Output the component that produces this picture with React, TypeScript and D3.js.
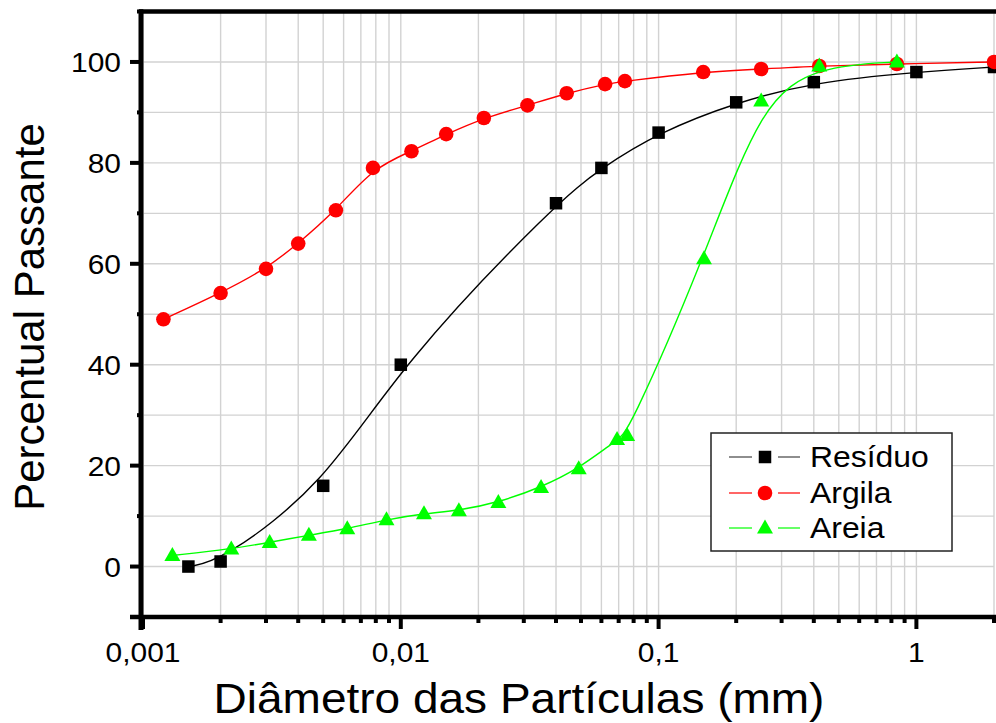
import React from "react";
import * as d3 from "d3";

// Particle size distribution (diameter in mm, percent passing)
const residuoDiam = [0.0015, 0.002, 0.005, 0.01, 0.04, 0.06, 0.1, 0.2, 0.4, 1, 2];
const residuoPass = [0, 1, 16, 40, 72, 79, 86, 92, 96, 98, 99];

const argilaDiam = [0.0012, 0.002, 0.003, 0.004, 0.0056, 0.0078, 0.011, 0.015, 0.021, 0.031, 0.044, 0.062, 0.074, 0.149, 0.25, 0.42, 0.84, 2];
const argilaPass = [49, 54.2, 59, 64, 70.6, 79, 82.3, 85.7, 88.9, 91.4, 93.8, 95.6, 96.2, 98, 98.6, 99.2, 99.6, 100];

const areiaDiam = [0.0013, 0.0022, 0.0031, 0.0044, 0.0062, 0.0088, 0.0123, 0.0168, 0.0239, 0.035, 0.049, 0.069, 0.0755, 0.15, 0.25, 0.42, 0.84];
const areiaPass = [2.2, 3.5, 4.8, 6.2, 7.5, 9.3, 10.5, 11.1, 12.7, 15.7, 19.4, 25.2, 26, 61, 92.3, 99.2, 100];

const seriesNames = ["Resíduo", "Argila", "Areia"];
const seriesColors = ["#000000", "#ff0000", "#00ff00"];
const seriesSymbols = ["square", "circle", "triangle"];

const yTickValues = [0, 20, 40, 60, 80, 100];
const xMajorTicks = [0.001, 0.01, 0.1, 1];
const xTickLabels = ["0,001", "0,01", "0,1", "1"];

const W = 996;
const H = 723;
const M = { left: 143, right: 994, top: 11.5, bottom: 617 };
const FONT = "'Liberation Sans', Arial, Helvetica, sans-serif";
const STRETCH = 1.07;

const x = d3.scaleLog().domain([0.001, 2]).range([M.left, M.right]);
const y = d3.scaleLinear().domain([-10, 110]).range([M.bottom, M.top]);

// Minor ticks on the log axis: 1..9 per decade up to 2
const xMinor: number[] = [];
for (let e = -3; e <= 0; e++) {
  for (let m = 1; m <= 9; m++) {
    const v = m * Math.pow(10, e);
    if (v <= 2.0001) xMinor.push(v);
  }
}
const yAll = d3.range(-10, 111, 10);

type Pt = { d: number; p: number };
const makePts = (ds: number[], ps: number[]): Pt[] => ds.map((d, i) => ({ d, p: ps[i] }));
const seriesData = [
  makePts(residuoDiam, residuoPass),
  makePts(argilaDiam, argilaPass),
  makePts(areiaDiam, areiaPass),
];

const lineGen = d3
  .line<Pt>()
  .x((d) => x(d.d))
  .y((d) => y(d.p))
  .curve(d3.curveBasis);

function Marker({ kind, cx, cy, color }: { kind: string; cx: number; cy: number; color: string }) {
  if (kind === "square") {
    const s = 12.5;
    return <rect x={cx - s / 2} y={cy - s / 2} width={s} height={s} fill={color} />;
  }
  if (kind === "circle") {
    return <circle cx={cx} cy={cy} r={7.3} fill={color} />;
  }
  const w = 16;
  const h = 14;
  return (
    <path
      d={`M${cx},${cy - h * 0.6} L${cx + w / 2},${cy + h * 0.4} L${cx - w / 2},${cy + h * 0.4} Z`}
      fill={color}
    />
  );
}

// Horizontal text with a slight horizontal stretch
function SText({
  tx,
  ty,
  size,
  anchor,
  sx = STRETCH,
  dy,
  children,
}: {
  tx: number;
  ty: number;
  size: number;
  anchor: "start" | "middle" | "end";
  sx?: number;
  dy?: string;
  children: React.ReactNode;
}) {
  return (
    <text
      transform={`translate(${tx},${ty}) scale(${sx},1)`}
      dy={dy}
      fontFamily={FONT}
      fontSize={size}
      textAnchor={anchor}
      fill="#000"
    >
      {children}
    </text>
  );
}

export default function App() {
  const legendX = 711;
  const legendY = 433;
  const legendRows = [457, 493, 528];
  return (
    <div style={{ position: "absolute", left: 0, top: 0 }}>
      <svg width={W} height={H} style={{ display: "block", background: "#fff" }}>
        {/* grid */}
        <g stroke="#d2d2d2" strokeWidth={1.4}>
          {xMinor.map((v, i) => (
            <line key={"gx" + i} x1={x(v)} x2={x(v)} y1={M.top} y2={M.bottom} />
          ))}
          {yAll.map((v, i) => (
            <line key={"gy" + i} x1={M.left} x2={M.right} y1={y(v)} y2={y(v)} />
          ))}
        </g>

        {/* curves and markers */}
        {seriesData.map((pts, si) => (
          <g key={"s" + si}>
            <path d={lineGen(pts) || ""} fill="none" stroke={seriesColors[si]} strokeWidth={1.4} />
            {pts.map((pt, i) => (
              <Marker key={i} kind={seriesSymbols[si]} cx={x(pt.d)} cy={y(pt.p)} color={seriesColors[si]} />
            ))}
          </g>
        ))}

        {/* axes */}
        <g stroke="#000" strokeLinecap="butt">
          <line x1={M.left - 2} x2={M.left - 2} y1={M.top - 2} y2={M.bottom + 13} strokeWidth={5} />
          <line x1={M.left - 13} x2={W} y1={M.bottom} y2={M.bottom} strokeWidth={4.5} />
          <line x1={M.left - 4} x2={W} y1={M.top} y2={M.top} strokeWidth={4.5} />
          {yAll.map((v, i) => {
            const major = v % 20 === 0;
            return (
              <line
                key={"yt" + i}
                x1={M.left - (major ? 13 : 6)}
                x2={M.left}
                y1={y(v)}
                y2={y(v)}
                strokeWidth={4}
              />
            );
          })}
          {xMinor.map((v, i) => {
            const major = xMajorTicks.some((m) => Math.abs(m - v) < 1e-9);
            return (
              <line
                key={"xt" + i}
                x1={x(v)}
                x2={x(v)}
                y1={M.bottom}
                y2={M.bottom + (major ? 12 : 6)}
                strokeWidth={4}
              />
            );
          })}
        </g>

        {/* tick labels */}
        {yTickValues.map((v) => (
          <SText key={"yl" + v} tx={M.left - 22} ty={y(v)} dy="0.36em" size={28} anchor="end">
            {v}
          </SText>
        ))}
        {xMajorTicks.map((v, i) => (
          <SText key={"xl" + v} tx={x(v)} ty={662} size={28} anchor="middle">
            {xTickLabels[i]}
          </SText>
        ))}

        {/* axis titles */}
        <SText tx={519} ty={713} size={43} anchor="middle">
          Diâmetro das Partículas (mm)
        </SText>
        <text
          transform={`translate(44, 317) rotate(-90)`}
          fontFamily={FONT}
          fontSize={42}
          textAnchor="middle"
          fill="#000"
        >
          Percentual Passante
        </text>

        {/* legend */}
        <g>
          <rect x={legendX} y={legendY} width={241} height={118} fill="#fff" stroke="#222" strokeWidth={1.5} />
          {seriesNames.map((name, i) => (
            <g key={"lg" + i}>
              <line x1={729} x2={752} y1={legendRows[i]} y2={legendRows[i]} stroke={i === 0 ? "#444" : seriesColors[i]} strokeWidth={1.2} />
              <line x1={778} x2={800} y1={legendRows[i]} y2={legendRows[i]} stroke={i === 0 ? "#444" : seriesColors[i]} strokeWidth={1.2} />
              <Marker kind={seriesSymbols[i]} cx={765} cy={legendRows[i]} color={seriesColors[i]} />
              <SText tx={810} ty={legendRows[i]} dy="0.36em" size={29} sx={1.1} anchor="start">
                {name}
              </SText>
            </g>
          ))}
        </g>
      </svg>
    </div>
  );
}
